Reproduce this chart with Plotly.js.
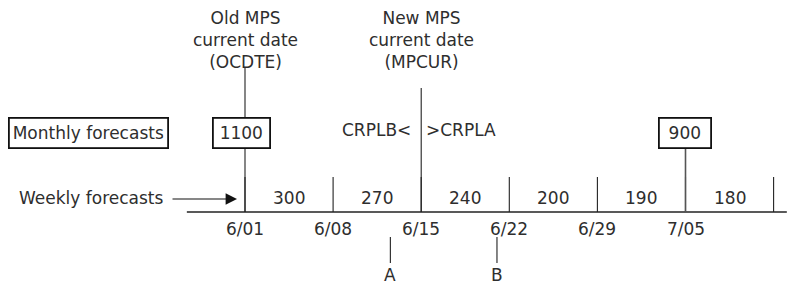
<!DOCTYPE html>
<html><head><meta charset="utf-8">
<script src="https://cdn.plot.ly/plotly-3.0.1.min.js"></script>
<style>html,body{margin:0;padding:0;background:#fff}#c{width:794px;height:284px}</style>
</head><body><div id="c"></div>
<script>
const weekDates = ['6/01','6/08','6/15','6/22','6/29','7/05'];
const weeklyForecasts = [300, 270, 240, 200, 190, 180];
const monthlyWeeks = [0, 5];
const monthlyForecasts = [1100, 900];
const oldMpsWeek = 0;
const newMpsWeek = 2;
const pointLabels = ['A', 'B'];
const pointWeeks = [1.65, 2.86];

const F = {family: 'DejaVu Sans, sans-serif', size: 17, color: '#2e2e2e'};
const shapes = [];
const ann = [];
const LC = '#222';
const U = 88.1; // px per week (layout only)
// axis line
shapes.push({type:'line', x0:-0.66, x1:6.15, y0:212, y1:212, line:{color:LC, width:1.3}});
// week boundary ticks
for (let i = 0; i <= weeklyForecasts.length; i++) {
  shapes.push({type:'line', x0:i, x1:i, y0:177, y1:212, line:{color:LC, width:1.1}});
}
// long lines
shapes.push({type:'line', x0:oldMpsWeek, x1:oldMpsWeek, y0:68, y1:212, line:{color:LC, width:1.1}});
shapes.push({type:'line', x0:newMpsWeek, x1:newMpsWeek, y0:88, y1:212, line:{color:LC, width:1.1}});
shapes.push({type:'line', x0:monthlyWeeks[1], x1:monthlyWeeks[1], y0:148, y1:212, line:{color:'#555', width:1.6}});
// date labels
weekDates.forEach((d, i) => ann.push({x:i, y:229, text:d, showarrow:false, font:F}));
// weekly values
weeklyForecasts.forEach((v, i) => ann.push({x:i + 0.5, y:198, text:String(v), showarrow:false, font:F}));
// monthly boxes
const boxOffsets = [-3.5/U, -1/U];
const boxWidths = [47, 42];
monthlyForecasts.forEach((v, k) => ann.push({x:monthlyWeeks[k] + boxOffsets[k], y:133, text:String(v), showarrow:false, font:F,
  bordercolor:'#111', borderwidth:1.8, borderpad:3, bgcolor:'#fff', width:boxWidths[k] + 2, height:22}));
// Monthly forecasts label box
ann.push({xref:'paper', x:8/794, xanchor:'left', y:133, text:'Monthly forecasts', showarrow:false, font:F,
  bordercolor:'#111', borderwidth:1.8, borderpad:3, width:151, height:22});
// Weekly forecasts label + arrow
ann.push({xref:'paper', x:166/794, xanchor:'right', y:198, text:'Weekly forecasts', showarrow:false, font:F});
ann.push({x:-8/U, y:199, text:'', showarrow:true, ax:-66, ay:0, arrowhead:2, arrowsize:1.9, arrowwidth:1.2, arrowcolor:'#111'});
// top labels
ann.push({x:oldMpsWeek, y:40, text:'Old MPS<br>current date<br>(OCDTE)', showarrow:false, font:F});
ann.push({x:newMpsWeek, y:40, text:'New MPS<br>current date<br>(MPCUR)', showarrow:false, font:F});
ann.push({x:newMpsWeek - 8/U, xanchor:'right', y:130, text:'CRPLB&lt;', showarrow:false, font:F});
ann.push({x:newMpsWeek + 3/U, xanchor:'left', y:130, text:'&gt;CRPLA', showarrow:false, font:F});
// A / B markers
pointLabels.forEach((l, k) => {
  shapes.push({type:'line', x0:pointWeeks[k], x1:pointWeeks[k], y0:237, y1:263, line:{color:LC, width:1.1}});
  ann.push({x:pointWeeks[k], y:275, text:l, showarrow:false, font:F});
});

const xr0 = -245/U, xr1 = (794-245)/U;
Plotly.newPlot('c', [{x:[0], y:[0], mode:'markers', marker:{opacity:0}, hoverinfo:'skip', showlegend:false}], {
  width:794, height:284, margin:{l:0, r:0, t:0, b:0},
  paper_bgcolor:'#fff', plot_bgcolor:'#fff',
  xaxis:{range:[xr0, xr1], visible:false, fixedrange:true},
  yaxis:{range:[284, 0], visible:false, fixedrange:true},
  shapes:shapes, annotations:ann, showlegend:false
}, {staticPlot:true});
</script></body></html>
